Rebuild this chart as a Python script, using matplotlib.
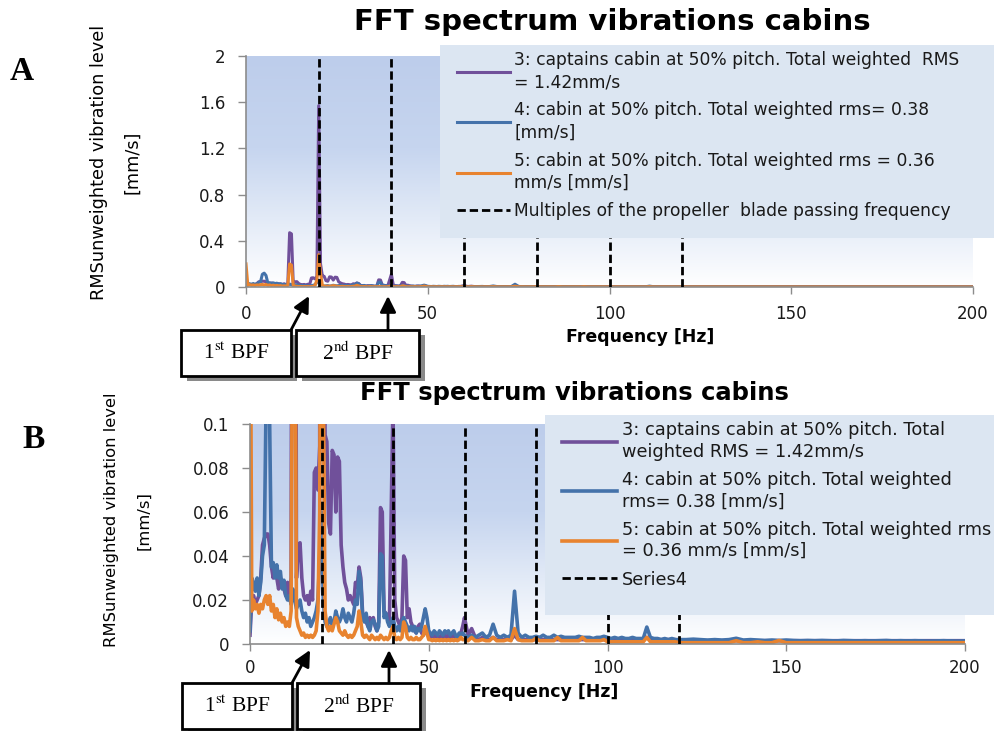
import numpy as np
import matplotlib
matplotlib.use("Agg")
import matplotlib.pyplot as plt
from matplotlib.colors import LinearSegmentedColormap
from matplotlib.patches import Rectangle, FancyArrowPatch

## DATA ##
# frequency grid [Hz]: 0.5 Hz up to 60, 1 Hz up to 120, 2 Hz up to 200
freq = np.concatenate([np.arange(0, 60, 0.5), np.arange(60, 120, 1.0), np.arange(120, 201, 2.0)])

# 3: captains cabin (purple)
captain = [
    0.004, 0.020, 0.022, 0.018, 0.020, 0.022, 0.030, 0.045, 0.048, 0.050,
    0.050, 0.045, 0.035, 0.030, 0.035, 0.030, 0.025, 0.030, 0.028, 0.025,
    0.022, 0.028, 0.020, 0.030, 0.470, 0.460, 0.030, 0.045, 0.046, 0.030,
    0.022, 0.020, 0.022, 0.018, 0.024, 0.020, 0.078, 0.080, 0.070, 0.090,
    1.570, 0.200, 0.095, 0.092, 0.055, 0.050, 0.088, 0.086, 0.060, 0.085,
    0.083, 0.045, 0.035, 0.028, 0.025, 0.020, 0.022, 0.020, 0.018, 0.028,
    0.026, 0.035, 0.030, 0.014, 0.012, 0.010, 0.008, 0.012, 0.010, 0.012,
    0.008, 0.006, 0.010, 0.062, 0.060, 0.015, 0.014, 0.012, 0.010, 0.060,
    0.110, 0.020, 0.012, 0.010, 0.008, 0.012, 0.040, 0.038, 0.012, 0.016,
    0.010, 0.008, 0.006, 0.005, 0.008, 0.009, 0.005, 0.004, 0.006, 0.005,
    0.004, 0.003, 0.004, 0.003, 0.004, 0.003, 0.003, 0.004, 0.003, 0.004,
    0.003, 0.004, 0.003, 0.003, 0.004, 0.003, 0.003, 0.004, 0.005, 0.008,
    # 60-119 Hz
    0.012, 0.004, 0.007, 0.003, 0.002, 0.003, 0.002, 0.002, 0.003, 0.002,
    0.002, 0.002, 0.003, 0.002, 0.004, 0.002, 0.002, 0.002, 0.002, 0.002,
    0.002, 0.002, 0.002, 0.002, 0.002, 0.002, 0.002, 0.002, 0.002, 0.002,
    0.002, 0.002, 0.002, 0.002, 0.002, 0.002, 0.002, 0.002, 0.002, 0.002,
    0.002, 0.002, 0.002, 0.002, 0.002, 0.002, 0.002, 0.002, 0.002, 0.002,
    0.002, 0.003, 0.002, 0.002, 0.002, 0.002, 0.002, 0.002, 0.002, 0.002,
    # 120-200 Hz
    0.0015, 0.0015, 0.0015, 0.0015, 0.0015, 0.0015, 0.0015, 0.0015, 0.0015, 0.0015,
    0.0015, 0.0015, 0.0015, 0.0015, 0.0015, 0.0015, 0.0015, 0.0015, 0.0015, 0.0015,
    0.0015, 0.0015, 0.0015, 0.0015, 0.0015, 0.0015, 0.0015, 0.0015, 0.0015, 0.0015,
    0.0015, 0.0015, 0.0015, 0.0015, 0.0015, 0.0015, 0.0015, 0.0015, 0.0015, 0.0015,
    0.0015,
]

# 4: cabin (blue)
cabin4 = [
    0.006, 0.030, 0.028, 0.024, 0.030, 0.022, 0.028, 0.040, 0.045, 0.110,
    0.120, 0.100, 0.035, 0.037, 0.030, 0.036, 0.030, 0.033, 0.025, 0.029,
    0.022, 0.020, 0.022, 0.018, 0.025, 0.020, 0.016, 0.018, 0.020, 0.015,
    0.012, 0.014, 0.010, 0.012, 0.008, 0.010, 0.012, 0.015, 0.020, 0.040,
    0.060, 0.020, 0.010, 0.008, 0.010, 0.012, 0.008, 0.010, 0.015, 0.012,
    0.010, 0.012, 0.016, 0.012, 0.010, 0.014, 0.012, 0.010, 0.014, 0.020,
    0.018, 0.033, 0.028, 0.012, 0.010, 0.014, 0.008, 0.006, 0.010, 0.011,
    0.009, 0.006, 0.008, 0.041, 0.040, 0.012, 0.014, 0.010, 0.008, 0.010,
    0.012, 0.008, 0.006, 0.008, 0.006, 0.010, 0.012, 0.010, 0.008, 0.006,
    0.008, 0.006, 0.008, 0.005, 0.007, 0.006, 0.008, 0.012, 0.016, 0.012,
    0.006, 0.005, 0.004, 0.006, 0.005, 0.004, 0.006, 0.005, 0.004, 0.006,
    0.005, 0.006, 0.004, 0.005, 0.006, 0.004, 0.003, 0.005, 0.004, 0.005,
    # 60-119 Hz
    0.004, 0.003, 0.004, 0.003, 0.004, 0.005, 0.003, 0.004, 0.009, 0.004,
    0.003, 0.004, 0.003, 0.004, 0.024, 0.005, 0.003, 0.004, 0.003, 0.003,
    0.0035, 0.003, 0.004, 0.003, 0.003, 0.004, 0.003, 0.0035, 0.003, 0.003,
    0.003, 0.003, 0.0035, 0.003, 0.003, 0.003, 0.0025, 0.003, 0.003, 0.0035,
    0.003, 0.0025, 0.003, 0.0025, 0.003, 0.0025, 0.0025, 0.003, 0.0025, 0.0025,
    0.0025, 0.0077, 0.003, 0.0025, 0.0025, 0.002, 0.0025, 0.002, 0.0025, 0.002,
    # 120-200 Hz
    0.002, 0.002, 0.0022, 0.002, 0.0018, 0.002, 0.0018, 0.002, 0.0026, 0.0018,
    0.002, 0.0018, 0.0016, 0.0018, 0.0016, 0.0018, 0.0016, 0.0015, 0.0016, 0.0015,
    0.0016, 0.0015, 0.0014, 0.0016, 0.0015, 0.0014, 0.0015, 0.0014, 0.0015, 0.0016,
    0.0014, 0.0015, 0.0014, 0.0015, 0.0014, 0.0013, 0.0014, 0.0015, 0.0014, 0.0013,
    0.0014,
]

# 5: cabin (orange)
cabin5 = [
    0.200, 0.015, 0.020, 0.016, 0.018, 0.014, 0.018, 0.016, 0.020, 0.022,
    0.018, 0.022, 0.015, 0.018, 0.012, 0.016, 0.011, 0.014, 0.010, 0.012,
    0.008, 0.010, 0.008, 0.015, 0.200, 0.190, 0.012, 0.008, 0.006, 0.004,
    0.005, 0.003, 0.004, 0.003, 0.004, 0.003, 0.004, 0.006, 0.015, 0.060,
    0.280, 0.120, 0.015, 0.008, 0.006, 0.008, 0.006, 0.009, 0.012, 0.010,
    0.006, 0.005, 0.004, 0.006, 0.004, 0.003, 0.004, 0.003, 0.004, 0.006,
    0.008, 0.015, 0.010, 0.004, 0.003, 0.004, 0.003, 0.002, 0.004, 0.003,
    0.002, 0.003, 0.002, 0.004, 0.003, 0.002, 0.003, 0.002, 0.003, 0.006,
    0.008, 0.003, 0.002, 0.003, 0.002, 0.003, 0.010, 0.008, 0.003, 0.002,
    0.003, 0.002, 0.002, 0.003, 0.002, 0.002, 0.003, 0.004, 0.008, 0.005,
    0.002, 0.002, 0.0015, 0.002, 0.0015, 0.002, 0.0015, 0.002, 0.0015, 0.002,
    0.0015, 0.002, 0.0015, 0.002, 0.0015, 0.002, 0.0015, 0.002, 0.003, 0.002,
    # 60-119 Hz
    0.002, 0.0015, 0.003, 0.0015, 0.0015, 0.002, 0.0015, 0.0015, 0.003, 0.0015,
    0.0015, 0.0015, 0.002, 0.0015, 0.007, 0.002, 0.0015, 0.0015, 0.0015, 0.0015,
    0.0025, 0.0015, 0.0015, 0.0015, 0.0015, 0.0015, 0.003, 0.0015, 0.0015, 0.0015,
    0.0015, 0.0015, 0.0015, 0.003, 0.0015, 0.0015, 0.0015, 0.0015, 0.0015, 0.002,
    0.001, 0.001, 0.001, 0.001, 0.001, 0.001, 0.001, 0.001, 0.001, 0.001,
    0.001, 0.003, 0.001, 0.001, 0.001, 0.001, 0.001, 0.001, 0.001, 0.001,
    # 120-200 Hz
    0.0006, 0.0006, 0.0006, 0.0006, 0.0006, 0.0006, 0.0006, 0.0006, 0.0015, 0.0006,
    0.0006, 0.001, 0.0006, 0.0006, 0.0016, 0.0006, 0.0006, 0.0006, 0.0006, 0.0006,
    0.0006, 0.0006, 0.0006, 0.0006, 0.0006, 0.0006, 0.0006, 0.0006, 0.0006, 0.0006,
    0.0006, 0.0006, 0.0006, 0.0006, 0.0006, 0.0006, 0.0006, 0.0006, 0.0006, 0.0006,
    0.0006,
]

bpf_multiples = [20, 40, 60, 80, 100, 120]

labels_a = ["3: captains cabin at 50% pitch. Total weighted  RMS\n= 1.42mm/s",
            "4: cabin at 50% pitch. Total weighted rms= 0.38\n[mm/s]",
            "5: cabin at 50% pitch. Total weighted rms = 0.36\nmm/s [mm/s]",
            "Multiples of the propeller  blade passing frequency"]
labels_b = ["3: captains cabin at 50% pitch. Total\nweighted RMS = 1.42mm/s",
            "4: cabin at 50% pitch. Total weighted\nrms= 0.38 [mm/s]",
            "5: cabin at 50% pitch. Total weighted rms\n= 0.36 mm/s [mm/s]",
            "Series4"]

## STYLE ##
W, H = 994, 731
C_PURPLE = '#70509a'
C_BLUE = '#4472aa'
C_ORANGE = '#e8832f'
SANS = 'DejaVu Sans'
SERIF = 'Liberation Serif'
plt.rcParams['mathtext.fontset'] = 'stix'

bg_cmap = LinearSegmentedColormap.from_list(
    'bg', [(0.0, '#ffffff'), (0.3, '#e2eaf7'), (0.6, '#c6d5ef'), (1.0, '#bdcdeb')])


def px(x, y):
    # pixel position (top-left origin) -> figure fraction
    return x / W, 1 - y / H


def draw_panel(fig, rect, ymax, yticks, ytick_fmt, lw, labels, legend_box,
               fsize, lspace, linesp, xpad):
    ax = fig.add_axes(rect)
    grad = np.linspace(0, 1, 256).reshape(-1, 1)
    ax.imshow(grad, extent=[0, 200, 0, ymax], aspect='auto', cmap=bg_cmap,
              origin='lower', zorder=0)
    h1, = ax.plot(freq, captain, color=C_PURPLE, lw=lw, zorder=2)
    h2, = ax.plot(freq, cabin4, color=C_BLUE, lw=lw, zorder=2.1)
    h3, = ax.plot(freq, cabin5, color=C_ORANGE, lw=lw, zorder=2.2)
    for f in bpf_multiples:
        h4, = ax.plot([f, f], [0, ymax], color='black', lw=2.0,
                      linestyle=(0, (3, 1.4)), zorder=3)
    ax.set_xlim(0, 200)
    ax.set_ylim(0, ymax)
    ax.set_xticks([0, 50, 100, 150, 200])
    ax.set_yticks(yticks)
    ax.set_yticklabels([ytick_fmt(v) for v in yticks])
    for name, spine in ax.spines.items():
        if name in ('top', 'right'):
            spine.set_visible(False)
        else:
            spine.set_color('#8c8c8c')
            spine.set_linewidth(1.2)
    ax.tick_params(axis='y', length=6, width=1, color='#8c8c8c', pad=9,
                   labelsize=12, labelcolor='#1a1a1a')
    ax.tick_params(axis='x', length=5, width=1, color='#8c8c8c', pad=xpad,
                   labelsize=12, labelcolor='#1a1a1a')
    for t in ax.get_xticklabels() + ax.get_yticklabels():
        t.set_fontfamily(SANS)

    # legend box drawn over the plot area
    x0, y0 = px(legend_box[0], legend_box[3])
    x1, y1 = px(legend_box[2], legend_box[1])
    ax.add_patch(Rectangle((x0, y0), x1 - x0, y1 - y0, transform=fig.transFigure,
                           facecolor='#dce6f2', edgecolor='none', clip_on=False, zorder=5))
    leg = ax.legend([h1, h2, h3, h4], labels, loc='upper left',
                    bbox_to_anchor=px(legend_box[0] + 10, legend_box[1] - 1),
                    bbox_transform=fig.transFigure, frameon=False,
                    prop={'family': SANS, 'size': fsize}, handlelength=3.1,
                    handletextpad=0.25, labelspacing=lspace, borderaxespad=0)
    leg.set_zorder(6)
    for t in leg.get_texts():
        t.set_linespacing(linesp)
        t.set_color('#1a1a1a')
    return ax


def bpf_box(fig, x0, y0, x1, y1, text):
    sx, sy = px(x0 + 6, y1 + 5)
    fx, fy = px(x0, y1)
    w = (x1 - x0) / W
    h = (y1 - y0) / H
    fig.add_artist(Rectangle((sx, sy), w, h, transform=fig.transFigure,
                             facecolor='#8a8a8a', edgecolor='none'))
    fig.add_artist(Rectangle((fx, fy), w, h, transform=fig.transFigure,
                             facecolor='white', edgecolor='black', lw=2))
    cx, cy = px((x0 + x1) / 2, (y0 + y1) / 2)
    fig.text(cx, cy, text, ha='center', va='center', fontsize=15.5,
             family=SERIF, color='black')


def arrow(fig, tail, tip):
    fig.add_artist(FancyArrowPatch(
        px(*tail), px(*tip), transform=fig.transFigure, arrowstyle='-|>',
        mutation_scale=24, color='black', lw=2, shrinkA=0, shrinkB=0))


fig = plt.figure(figsize=(W / 100, H / 100), dpi=100, facecolor='white')

# panel A
draw_panel(fig, [246 / W, 1 - 287 / H, 727 / W, 231 / H], 2.0,
           [0, 0.4, 0.8, 1.2, 1.6, 2.0],
           lambda v: '0' if v == 0 else ('2' if v == 2 else f'{v:.1f}'),
           2.2, labels_a, (440, 45, 994, 238), 12.3, 0.6, 1.3, 8)
# panel B
draw_panel(fig, [250 / W, 1 - 644 / H, 715 / W, 220 / H], 0.1,
           [0, 0.02, 0.04, 0.06, 0.08, 0.1],
           lambda v: '0' if v == 0 else ('0.1' if v == 0.1 else f'{v:.2f}'),
           2.6, labels_b, (545, 415, 994, 615), 12.8, 0.58, 1.25, 6)

# titles
fig.text(*px(612, 22), 'FFT spectrum vibrations cabins', ha='center', va='center',
         fontsize=21, fontweight='bold', family=SANS)
fig.text(*px(574, 393), 'FFT spectrum vibrations cabins', ha='center', va='center',
         fontsize=17.5, fontweight='bold', family=SANS)

# x labels
fig.text(*px(640, 337), 'Frequency [Hz]', ha='center', va='center',
         fontsize=12.5, fontweight='bold', family=SANS)
fig.text(*px(544, 692), 'Frequency [Hz]', ha='center', va='center',
         fontsize=12.5, fontweight='bold', family=SANS)

# y labels
for (xl1, xl2, yc, fs) in [(99, 132, 162, 12.7), (112, 144, 520, 11.8)]:
    fig.text(*px(xl1, yc), 'RMSunweighted vibration level', rotation=90,
             ha='center', va='center', fontsize=fs, family=SANS)
    fig.text(*px(xl2, yc), '[mm/s]', rotation=90, ha='center', va='center',
             fontsize=fs, family=SANS)

# panel letters
fig.text(*px(22, 72), 'A', ha='center', va='center', fontsize=24,
         fontweight='bold', family=SERIF)
fig.text(*px(34, 440), 'B', ha='center', va='center', fontsize=24,
         fontweight='bold', family=SERIF)

# BPF call-outs
bpf_box(fig, 181, 330, 291, 376, r'1$^{\rm st}$ BPF')
bpf_box(fig, 296, 330, 419, 376, r'2$^{\rm nd}$ BPF')
arrow(fig, (291, 330), (309, 296))
arrow(fig, (388, 330), (388, 296))
bpf_box(fig, 182, 683, 292, 729, r'1$^{\rm st}$ BPF')
bpf_box(fig, 297, 683, 420, 729, r'2$^{\rm nd}$ BPF')
arrow(fig, (292, 683), (310, 650))
arrow(fig, (389, 683), (389, 650))

fig.savefig('out.png', dpi=100, facecolor='white')
